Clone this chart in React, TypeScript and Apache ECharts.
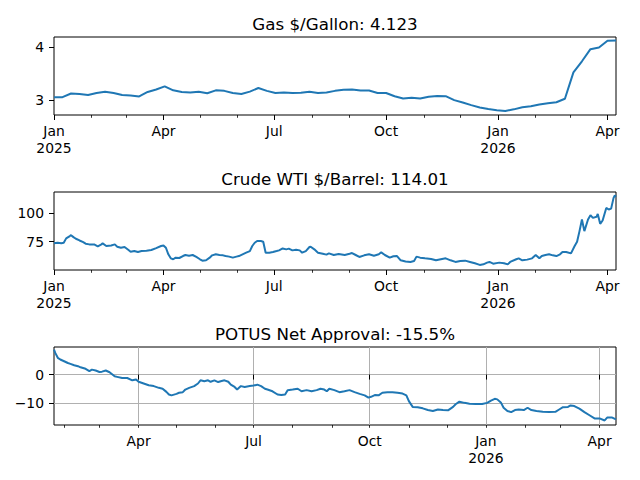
import React, { useEffect, useRef } from "react";
import * as echarts from "echarts";

const BASE = Date.UTC(2025, 0, 1);
const DAY = 86400000;
const ts = (d: number) => BASE + d * DAY;

const titles = ["Gas $/Gallon: 4.123", "Crude WTI $/Barrel: 114.01", "POTUS Net Approval: -15.5%"];

// Gas: weekly values starting 2025-01-01
const gasStepDays = 7;
const gasValues = [
  3.05, 3.05, 3.12, 3.11, 3.09, 3.13, 3.155, 3.13, 3.09, 3.08,
  3.065, 3.15, 3.195, 3.255, 3.18, 3.15, 3.14, 3.155, 3.125, 3.18,
  3.17, 3.13, 3.11, 3.155, 3.225, 3.17, 3.13, 3.137, 3.13, 3.135,
  3.155, 3.13, 3.14, 3.17, 3.19, 3.195, 3.176, 3.176, 3.13, 3.13,
  3.068, 3.025, 3.04, 3.025, 3.06, 3.075, 3.07, 2.995, 2.95, 2.9,
  2.855, 2.825, 2.805, 2.79, 2.82, 2.86, 2.88, 2.91, 2.935, 2.955,
  3.02, 3.52, 3.73, 3.96, 3.99, 4.12, 4.123,
];

// Crude: day offsets from 2025-01-01 and prices
const crudeDays = [
  0, 3, 6, 8, 10, 13, 14, 16, 18, 21, 24, 26, 29, 33, 36, 39, 40, 43, 47, 50,
  52, 55, 58, 61, 63, 66, 69, 72, 76, 80, 84, 88, 90, 92, 94, 96, 98, 100, 103, 106,
  108, 111, 114, 117, 120, 122, 125, 128, 130, 133, 136, 139, 141, 144, 147, 150, 152, 155, 158, 161,
  163, 165, 167, 170, 172, 174, 177, 180, 183, 185, 188, 191, 193, 196, 199, 202, 204, 207, 210, 211,
  214, 217, 221, 224, 226, 230, 234, 239, 243, 245, 248, 251, 255, 259, 263, 267, 269, 272, 276, 279,
  282, 285, 289, 293, 296, 298, 301, 305, 310, 314, 318, 322, 326, 330, 334, 338, 342, 346, 350, 353,
  356, 358, 361, 366, 370, 373, 375, 380, 382, 385, 389, 393, 396, 399, 401, 404, 407, 410, 413, 416,
  418, 421, 425, 428, 430, 432, 434, 436, 439, 441, 443, 446, 447, 449, 451, 454, 456, 458, 460, 461, 462,
];
const crudeValues = [
  73.6, 74.1, 73.6, 74.1, 77.9, 79.9, 80.7, 79.0, 77.6, 76.1, 74.7, 73.3, 72.7, 72.7, 71.0, 72.7, 73.6, 71.3, 71.8, 72.7,
  70.7, 69.8, 70.4, 68.1, 66.4, 66.9, 66.1, 66.9, 67.2, 67.8, 69.5, 71.3, 71.8, 69.8, 64.1, 60.6, 59.8, 61.2, 60.9, 62.6,
  63.5, 62.9, 63.5, 61.8, 59.8, 58.6, 58.9, 61.2, 63.2, 64.1, 63.5, 63.2, 62.6, 62.1, 61.2, 62.1, 62.6, 64.1, 65.5, 66.9,
  71.3, 74.1, 75.6, 75.6, 75.0, 65.5, 65.5, 66.1, 66.9, 67.5, 69.2, 68.4, 69.0, 67.5, 68.1, 67.5, 65.5, 66.9, 70.4, 70.7,
  68.4, 65.5, 64.6, 63.8, 64.9, 63.5, 64.4, 63.5, 64.6, 65.2, 63.5, 61.8, 63.2, 64.1, 62.9, 64.1, 65.8, 63.5, 61.2, 62.4,
  62.6, 58.9, 57.8, 57.5, 58.3, 62.1, 61.2, 60.6, 60.1, 58.9, 59.8, 60.6, 58.9, 57.5, 58.3, 58.6, 57.5, 56.3, 54.9, 55.4,
  56.9, 57.5, 56.0, 56.9, 56.3, 55.4, 57.5, 59.8, 60.6, 58.9, 59.5, 60.6, 63.5, 60.6, 62.6, 63.5, 64.1, 63.2, 62.6, 64.1,
  66.1, 66.1, 64.9, 71.3, 75.0, 84.2, 94.3, 84.2, 94.3, 98.0, 95.7, 96.6, 99.1, 90.5, 93.4, 104.3, 102.9, 103.7, 113.0, 115.0, 114.01,
];

// Approval: day offsets from 2025-01-01 and net approval
const approvalDays = [
  23, 24, 26, 28, 31, 34, 36, 39, 42, 44, 48, 51, 53, 56, 59, 61, 64, 67, 71, 73,
  77, 81, 85, 88, 90, 94, 98, 102, 106, 109, 112, 114, 116, 120, 122, 125, 127, 130, 134, 137,
  139, 142, 145, 147, 150, 153, 155, 158, 161, 163, 166, 168, 171, 174, 178, 181, 184, 187, 190, 192,
  196, 200, 203, 206, 208, 212, 216, 219, 223, 227, 231, 234, 237, 239, 241, 245, 249, 253, 257, 261,
  265, 269, 272, 274, 277, 280, 283, 287, 291, 295, 299, 302, 304, 307, 311, 315, 319, 323, 327, 331,
  335, 339, 341, 344, 348, 352, 357, 362, 366, 369, 372, 374, 377, 379, 382, 385, 388, 391, 395, 398,
  401, 405, 410, 415, 420, 423, 426, 430, 432, 435, 439, 443, 447, 451, 455, 459, 461, 465, 468,
];
const approvalValues = [
  8.6, 7.5, 5.8, 5.2, 4.6, 4.0, 3.7, 3.2, 2.9, 2.5, 2.0, 1.2, 1.7, 1.4, 0.9, 1.0, 1.4, 0.8, -0.6, -0.8,
  -1.2, -1.2, -2.0, -1.7, -2.5, -3.1, -3.7, -4.0, -4.6, -4.9, -6.0, -6.9, -7.2, -6.7, -6.3, -6.1, -5.2, -4.6, -4.0, -3.1,
  -2.0, -2.3, -2.0, -2.5, -2.0, -2.6, -2.3, -2.0, -2.5, -3.5, -4.3, -5.2, -4.0, -4.3, -4.0, -3.8, -3.5, -4.0, -4.9, -5.2,
  -5.8, -6.9, -7.1, -6.9, -5.4, -5.2, -4.9, -5.8, -5.4, -5.8, -5.4, -4.9, -5.2, -5.8, -4.9, -5.4, -6.1, -5.8, -5.4, -6.1,
  -6.7, -7.2, -8.0, -7.7, -7.1, -7.2, -6.3, -6.1, -6.1, -6.3, -6.6, -7.2, -9.2, -11.2, -11.3, -11.7, -12.3, -12.6, -12.1, -12.3,
  -12.4, -11.2, -10.3, -9.4, -9.8, -10.1, -10.2, -10.2, -9.8, -9.0, -8.4, -8.6, -9.8, -11.5, -12.6, -13.0, -12.3, -12.1, -12.3, -11.5,
  -12.3, -12.6, -12.9, -13.0, -12.9, -12.1, -11.3, -11.2, -10.7, -10.9, -11.8, -13.0, -14.1, -15.2, -15.2, -15.9, -14.9, -14.9, -15.5,
];

const gasYTicks = [3, 4];
const crudeYTicks = [75, 100];
const approvalYTicks = [-10, 0];
const gasYRange = [2.713, 4.19];
const crudeYRange = [50.5, 118.1];
const approvalYRange = [-17.47, 9.54];

const MONTHS = ["Jan", "Feb", "Mar", "Apr", "May", "Jun", "Jul", "Aug", "Sep", "Oct", "Nov", "Dec"];

const monthStarts: number[] = [];
for (let y = 2025; y <= 2026; y++) {
  for (let m = 0; m < 12; m++) monthStarts.push(Date.UTC(y, m, 1));
}
const quarterStarts = monthStarts.filter((t) => new Date(t).getUTCMonth() % 3 === 0);

const FONT = "DejaVu Sans";
const BLUE = "#1f77b4";

export default function App() {
  const ref = useRef<HTMLDivElement>(null);
  useEffect(() => {
    if (!ref.current) return;
    const chart = echarts.init(ref.current, undefined, { renderer: "svg" });

    const gasData = gasValues.map((v, i) => [ts(i * gasStepDays), v]);
    const crudeData = crudeValues.map((v, i) => [ts(crudeDays[i]), v]);
    const approvalData = approvalValues.map((v, i) => [ts(approvalDays[i]), v]);

    const panels = [
      { data: gasData, yTicks: gasYTicks, yRange: gasYRange, xMin: ts(0), xMax: ts(462), grid: false },
      { data: crudeData, yTicks: crudeYTicks, yRange: crudeYRange, xMin: ts(0), xMax: ts(462), grid: false },
      { data: approvalData, yTicks: approvalYTicks, yRange: approvalYRange, xMin: ts(approvalDays[0]), xMax: ts(approvalDays[approvalDays.length - 1]), grid: true },
    ];
    const tops = [37, 192, 347];

    const xFormatter = (v: number) => {
      const d = new Date(v);
      const m = d.getUTCMonth();
      return m === 0 ? `${MONTHS[m]}\n${d.getUTCFullYear()}` : MONTHS[m];
    };

    const grids: any[] = [];
    const xAxes: any[] = [];
    const yAxes: any[] = [];
    const series: any[] = [];
    const graphics: any[] = [];

    panels.forEach((p, i) => {
      grids.push({
        left: 54, top: tops[i], width: 562, height: 78,
        show: true, borderColor: "#000", borderWidth: 1, backgroundColor: "transparent",
        outerBoundsMode: "none", containLabel: false,
      });
      const majors = quarterStarts.filter((t) => t >= p.xMin && t <= p.xMax);
      const minors = monthStarts.filter((t) => t >= p.xMin && t <= p.xMax);
      xAxes.push({
        type: "value", gridIndex: i, min: p.xMin, max: p.xMax, position: "bottom",
        axisLine: { show: false },
        axisTick: { show: true, customValues: majors, length: 5, lineStyle: { color: "#000", width: 1 } },
        axisLabel: {
          show: true, customValues: majors, formatter: xFormatter, color: "#000",
          fontSize: 13.9, fontFamily: FONT, lineHeight: 16.6, margin: 8,
        },
        splitLine: { show: p.grid, lineStyle: { color: "#b0b0b0", width: 1 } },
      });
      xAxes.push({
        type: "value", gridIndex: i, min: p.xMin, max: p.xMax, position: "bottom", offset: 0,
        axisLine: { show: false },
        axisTick: { show: true, customValues: minors, length: 2.8, lineStyle: { color: "#000", width: 0.8 } },
        axisLabel: { show: false, customValues: minors },
        splitLine: { show: false },
      });
      yAxes.push({
        type: "value", gridIndex: i, min: p.yRange[0], max: p.yRange[1],
        axisLine: { show: false },
        axisTick: { show: true, customValues: p.yTicks, length: 5, lineStyle: { color: "#000", width: 1 } },
        axisLabel: {
          show: true, customValues: p.yTicks, color: "#000", fontSize: 13.9, fontFamily: FONT, margin: 10,
          formatter: (v: number) => String(v).replace("-", "\u2212"),
        },
        splitLine: { show: p.grid, lineStyle: { color: "#b0b0b0", width: 1 } },
      });
      series.push({
        type: "line", xAxisIndex: i * 2, yAxisIndex: i, data: p.data, showSymbol: false,
        lineStyle: { color: BLUE, width: 2 }, itemStyle: { color: BLUE }, clip: true,
      });
      graphics.push({
        type: "text", x: 335, y: tops[i] - 13,
        style: {
          text: titles[i], fill: "#000", font: `16.7px '${FONT}'`, fontSize: 16.7, fontFamily: FONT,
          textAlign: "center", textVerticalAlign: "middle", align: "center", verticalAlign: "middle",
        },
      });
    });

    chart.setOption({
      animation: false,
      backgroundColor: "#fff",
      grid: grids,
      xAxis: xAxes,
      yAxis: yAxes,
      series,
      graphic: graphics,
    });
    return () => chart.dispose();
  }, []);
  return <div ref={ref} style={{ position: "fixed", left: 0, top: 0, width: 640, height: 480 }} />;
}
